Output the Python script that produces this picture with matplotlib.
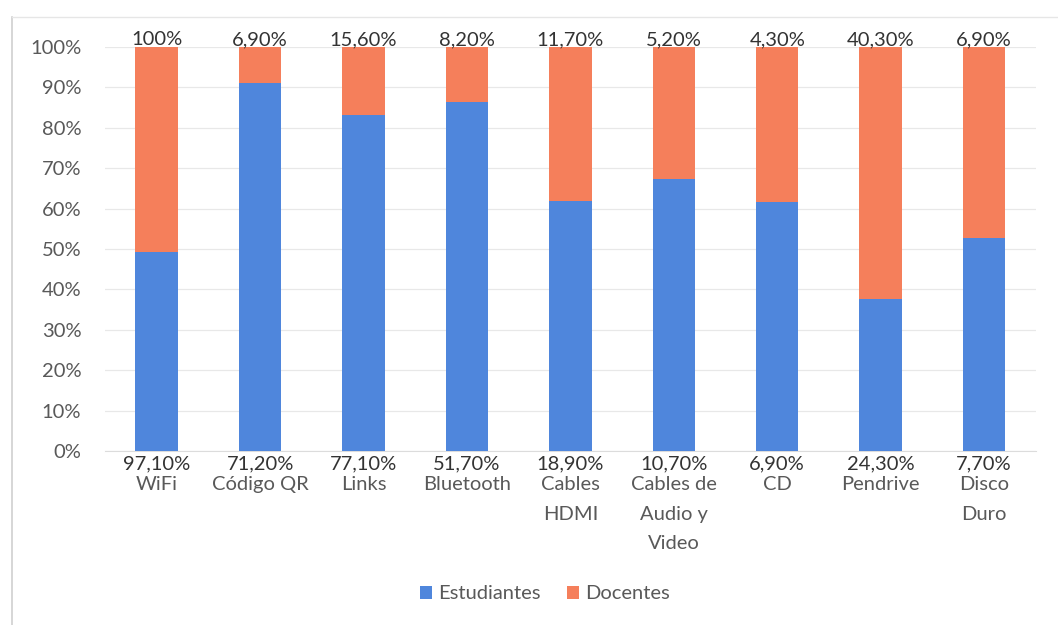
import matplotlib.pyplot as plt
import numpy as np
from matplotlib.ticker import PercentFormatter

categories = ["WiFi", "Código QR", "Links", "Bluetooth", "Cables\nHDMI",
              "Cables de\nAudio y\nVideo", "CD", "Pendrive", "Disco\nDuro"]
estudiantes = [97.10, 71.20, 77.10, 51.70, 18.90, 10.70, 6.90, 24.30, 7.70]
docentes = [100.0, 6.90, 15.60, 8.20, 11.70, 5.20, 4.30, 40.30, 6.90]
y_ticks = [0, 10, 20, 30, 40, 50, 60, 70, 80, 90, 100]

BLUE = "#4F86DC"
ORANGE = "#F57F5B"
TEXT = "#333333"
GREY = "#595959"
FS = 14.5

plt.rcParams["font.family"] = ["Lato", "DejaVu Sans"]


def pct_label(v):
    s = f"{v:.2f}%".replace(".", ",")
    if abs(v - round(v)) < 1e-9 and v >= 100:
        s = f"{int(round(v))}%"
    return s


est = np.array(estudiantes)
doc = np.array(docentes)
total = est + doc
est_share = est / total * 100
doc_share = doc / total * 100

fig = plt.figure(figsize=(10.58, 6.25), dpi=100)
ax = fig.add_axes([0.0992, 0.2784, 0.8798, 0.6464])

x = np.arange(len(categories))
ax.bar(x, est_share, width=0.41, color=BLUE, label="Estudiantes", zorder=3)
ax.bar(x, doc_share, width=0.41, bottom=est_share, color=ORANGE,
       label="Docentes", zorder=3)

for xi, d, e in zip(x, docentes, estudiantes):
    ax.annotate(pct_label(d), (xi, 100), xytext=(0, -1),
                textcoords="offset points", ha="center", va="bottom",
                fontsize=FS, color=TEXT)
    ax.annotate(pct_label(e), (xi, 0), xytext=(0, -3),
                textcoords="offset points", ha="center", va="top",
                fontsize=FS, color=TEXT)

ax.set_xlim(-0.5, len(categories) - 0.5)
ax.set_ylim(0, 100)
ax.set_yticks(y_ticks)
ax.yaxis.set_major_formatter(PercentFormatter(decimals=0))
ax.set_xticks(x)
ax.set_xticklabels(categories, fontsize=FS, color=GREY, linespacing=1.9)
ax.tick_params(axis="x", length=0, pad=18)
ax.tick_params(axis="y", length=0, pad=17, labelsize=FS, labelcolor=GREY)

ax.grid(axis="y", color="#e8e8e8", linewidth=0.9, zorder=0)
for s in ["top", "right", "left"]:
    ax.spines[s].set_visible(False)
ax.spines["bottom"].set_color("#dcdcdc")

leg = fig.legend(loc="center", bbox_to_anchor=(0.515, 0.05), ncol=2,
                 frameon=False, fontsize=FS, handlelength=0.6,
                 handleheight=0.6, handletextpad=0.3, columnspacing=1.3)
for t in leg.get_texts():
    t.set_color(GREY)

# chart area border
fig.add_artist(plt.Line2D([0.0113, 0.0113], [0.0, 0.973], color="#d0d0d0",
                          linewidth=1.2, transform=fig.transFigure))
fig.add_artist(plt.Line2D([0.0113, 1.0], [0.973, 0.973], color="#e6e6e6",
                          linewidth=1.0, transform=fig.transFigure))

fig.savefig("out.png", dpi=100, facecolor="white")
